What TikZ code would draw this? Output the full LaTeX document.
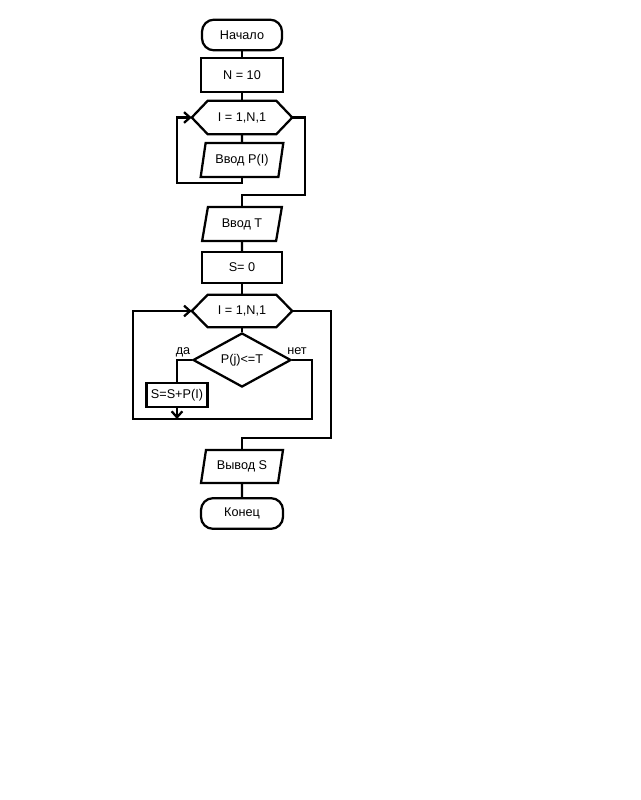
\documentclass[tikz,border=0pt]{standalone}
\usepackage{fontspec}
\setmainfont{Liberation Sans}
\usetikzlibrary{shapes.geometric,arrows.meta}

\tikzset{
  line/.style={line width=1.7pt},
  terminal/.style={draw, line width=1.7pt, rounded corners=9pt, minimum width=60pt, minimum height=23pt, inner sep=0pt},
  process/.style={draw, rectangle, line width=1.7pt, minimum width=61.5pt, minimum height=25.5pt, inner sep=0pt},
  io/.style={draw, trapezium, trapezium left angle=73, trapezium right angle=107, trapezium stretches=true, line width=1.7pt, minimum width=62pt, minimum height=25.5pt, inner sep=0pt},
  decision/.style={draw, diamond, line width=1.7pt, minimum width=73.5pt, minimum height=35pt, inner sep=0pt},
  cyclehead/.style={minimum width=75pt, minimum height=24.75pt, inner sep=0pt},
  arr/.style={-{Straight Barb[length=4.5pt,width=8pt]}, line width=1.7pt},
}

% contour of the loop head (hexagon round a plain node)
\newcommand{\hexframe}[1]{%
  \draw[line] ([xshift=12pt]#1.north west) -- ([xshift=-12pt]#1.north east) -- (#1.east)
    -- ([xshift=-12pt]#1.south east) -- ([xshift=12pt]#1.south west) -- (#1.west) -- cycle;}

\begin{document}
\begin{tikzpicture}[x=0.75pt, y=-0.75pt, font=\fontsize{9.5pt}{11pt}\selectfont]

    \useasboundingbox (0,0) rectangle (640,800);

    % Blocs du programme
    \node[terminal] (start) at (242,35) {Начало};
    \node[process] (n) at (242,75) {N = 10};
    \node[cyclehead] (loopa) at (242,117.5) {I = 1,N,1};
    \hexframe{loopa}
    \node[io] (inp) at (242,160) {Ввод P(I)};
    \node[io, minimum width=60pt] (inT) at (242,224) {Ввод T};
    \node[process, minimum width=60pt, minimum height=23.25pt] (s0) at (242,267.5) {S= 0};
    \node[cyclehead, minimum height=24pt] (loopb) at (242,311) {I = 1,N,1};
    \hexframe{loopb}
    \node[decision] (cond) at (242,360) {P(j)<=T};
    \node[process, minimum width=45.75pt, minimum height=18pt] (add) at (177,395) {S=S+P(I)};
    \node[io, minimum width=61.5pt, minimum height=24.75pt] (out) at (242,466.5) {Вывод S};
    \node[terminal, minimum width=61.5pt] (stop) at (242,513.5) {Конец};

    % Étiquettes des branches
    \node (yes) at (183,352) {да};
    \node (no) at (297,351) {нет};

    % Coins des lignes de retour
    \coordinate (l1bl) at (177,183);
    \coordinate (l1r) at (305,195);
    \coordinate (l2l) at (133,419);
    \coordinate (l2r) at (312,419);
    \coordinate (l2x) at (331,438);

    % Liaisons
    \draw[line] (start) -- (n);
    \draw[line] (n) -- (loopa);
    \draw[line] (loopa) -- (inp);
    \draw[arr] (inp.south) |- (l1bl) |- (loopa.west);
    \draw[line] (loopa.east) -| (l1r) -| (inT.north);
    \draw[line] (inT) -- (s0);
    \draw[line] (s0) -- (loopb);
    \draw[line] (loopb) -- (cond);
    \draw[line] (cond.west) -| (add.north);
    \draw[arr] (add.south) -- (add.south |- l2l);
    \draw[arr] (cond.east) -| (l2r) -- (l2l) |- (loopb.west);
    \draw[line] (loopb.east) -| (l2x) -| (out.north);
    \draw[line] (out) -- (stop);

\end{tikzpicture}
\end{document}
